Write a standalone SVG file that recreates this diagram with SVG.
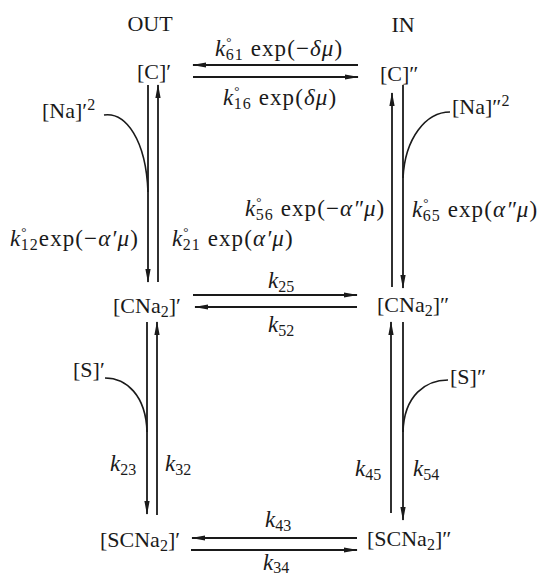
<svg xmlns="http://www.w3.org/2000/svg" width="540" height="577" viewBox="0 0 540 577">
<style>
text{font-family:"Liberation Serif","Times New Roman",serif;font-size:22px;fill:#1a1a1a}
.lb{font-size:23px}
.ex{letter-spacing:1.1px}
.i{font-style:italic}
.s{font-size:16px}
.r{font-size:13px}
.ln{stroke:#1a1a1a;stroke-width:1.8;fill:none}
.cv{stroke:#1a1a1a;stroke-width:1.6;fill:none}
</style>
<defs>
<marker id="ah" viewBox="0 0 14 6" refX="13" refY="3" markerWidth="14" markerHeight="6" markerUnits="userSpaceOnUse" orient="auto">
<path d="M0,0.4 L14,3 L0,5.6 Z" fill="#1a1a1a"/>
</marker>
</defs>
<rect width="540" height="577" fill="#fff"/>
<g id="connectors">
<line class="ln" x1="358" y1="65" x2="193" y2="65" marker-end="url(#ah)"/>
<line class="ln" x1="193" y1="77" x2="358" y2="77" marker-end="url(#ah)"/>
<line class="ln" x1="193" y1="295" x2="357" y2="295" marker-end="url(#ah)"/>
<line class="ln" x1="357" y1="307" x2="195" y2="307" marker-end="url(#ah)"/>
<line class="ln" x1="357" y1="538" x2="192" y2="538" marker-end="url(#ah)"/>
<line class="ln" x1="191" y1="550" x2="357" y2="550" marker-end="url(#ah)"/>
<line class="ln" x1="148" y1="85" x2="148" y2="282" marker-end="url(#ah)"/>
<line class="ln" x1="158" y1="282" x2="158" y2="85" marker-end="url(#ah)"/>
<line class="ln" x1="157" y1="515" x2="157" y2="322" marker-end="url(#ah)"/>
<line class="ln" x1="147" y1="322" x2="147" y2="514" marker-end="url(#ah)"/>
<line class="ln" x1="392" y1="287" x2="392" y2="93" marker-end="url(#ah)"/>
<line class="ln" x1="403" y1="85" x2="403" y2="288" marker-end="url(#ah)"/>
<line class="ln" x1="391" y1="513" x2="391" y2="322" marker-end="url(#ah)"/>
<line class="ln" x1="403" y1="322" x2="403" y2="520" marker-end="url(#ah)"/>
<path class="cv" d="M104,115 C126,112 146,140 148,192"/>
<path class="cv" d="M450,112 C426,112 405,138 403,178"/>
<path class="cv" d="M105,378 C126,378 146,395 147,432"/>
<path class="cv" d="M448,380 C426,380 404,395 403,432"/>
</g>
<g id="header-out"><text x="150" y="31" text-anchor="middle">OUT</text></g>
<g id="header-in"><text x="403" y="32" text-anchor="middle">IN</text></g>
<g id="C-out"><text x="137" y="79">[C]′</text></g>
<g id="C-in"><text x="380" y="81">[C]″</text></g>
<g id="Na-out"><text x="42" y="118">[Na]′<tspan class="s" dy="-8">2</tspan></text></g>
<g id="Na-in"><text x="452" y="114">[Na]″<tspan class="s" dy="-8">2</tspan></text></g>
<g id="CNa2-out"><text x="113" y="313">[CNa<tspan class="s" dy="4">2</tspan><tspan dy="-4">]′</tspan></text></g>
<g id="CNa2-in"><text x="377" y="312">[CNa<tspan class="s" dy="4">2</tspan><tspan dy="-4">]″</tspan></text></g>
<g id="S-out"><text x="73" y="377">[S]′</text></g>
<g id="S-in"><text x="450" y="384">[S]″</text></g>
<g id="SCNa2-out"><text x="100" y="547">[SCNa<tspan class="s" dy="4">2</tspan><tspan dy="-4">]′</tspan></text></g>
<g id="SCNa2-in"><text x="367" y="546">[SCNa<tspan class="s" dy="4">2</tspan><tspan dy="-4">]″</tspan></text></g>
<g id="labels">
<text class="lb ex" x="215" y="56"><tspan class="i">k</tspan><tspan class="r" dy="-10">°</tspan><tspan class="s" dx="-7" dy="14">61</tspan><tspan dy="-4"> exp(−</tspan><tspan class="i">δμ</tspan>)</text>
<text class="lb ex" x="223" y="105"><tspan class="i">k</tspan><tspan class="r" dy="-10">°</tspan><tspan class="s" dx="-7" dy="14">16</tspan><tspan dy="-4"> exp(</tspan><tspan class="i">δμ</tspan>)</text>
<text class="lb ex" x="245" y="216"><tspan class="i">k</tspan><tspan class="r" dy="-10">°</tspan><tspan class="s" dx="-7" dy="14">56</tspan><tspan dy="-4"> exp(−</tspan><tspan class="i">α″μ</tspan>)</text>
<text class="lb ex" x="412" y="217"><tspan class="i">k</tspan><tspan class="r" dy="-10">°</tspan><tspan class="s" dx="-7" dy="14">65</tspan><tspan dy="-4"> exp(</tspan><tspan class="i">α″μ</tspan>)</text>
<text class="lb ex" x="10" y="246"><tspan class="i">k</tspan><tspan class="r" dy="-10">°</tspan><tspan class="s" dx="-7" dy="14">12</tspan><tspan dy="-4">exp(−</tspan><tspan class="i">α′μ</tspan>)</text>
<text class="lb ex" x="172" y="246"><tspan class="i">k</tspan><tspan class="r" dy="-10">°</tspan><tspan class="s" dx="-7" dy="14">21</tspan><tspan dy="-4"> exp(</tspan><tspan class="i">α′μ</tspan>)</text>
<text class="lb" x="268" y="288"><tspan class="i">k</tspan><tspan class="s" dy="4">25</tspan></text>
<text class="lb" x="268" y="332"><tspan class="i">k</tspan><tspan class="s" dy="4">52</tspan></text>
<text class="lb" x="110" y="471"><tspan class="i">k</tspan><tspan class="s" dy="4">23</tspan></text>
<text class="lb" x="165" y="471"><tspan class="i">k</tspan><tspan class="s" dy="4">32</tspan></text>
<text class="lb" x="355" y="476"><tspan class="i">k</tspan><tspan class="s" dy="4">45</tspan></text>
<text class="lb" x="413" y="476"><tspan class="i">k</tspan><tspan class="s" dy="4">54</tspan></text>
<text class="lb" x="265" y="527"><tspan class="i">k</tspan><tspan class="s" dy="4">43</tspan></text>
<text class="lb" x="263" y="570"><tspan class="i">k</tspan><tspan class="s" dy="3">34</tspan></text>
</g>
</svg>
